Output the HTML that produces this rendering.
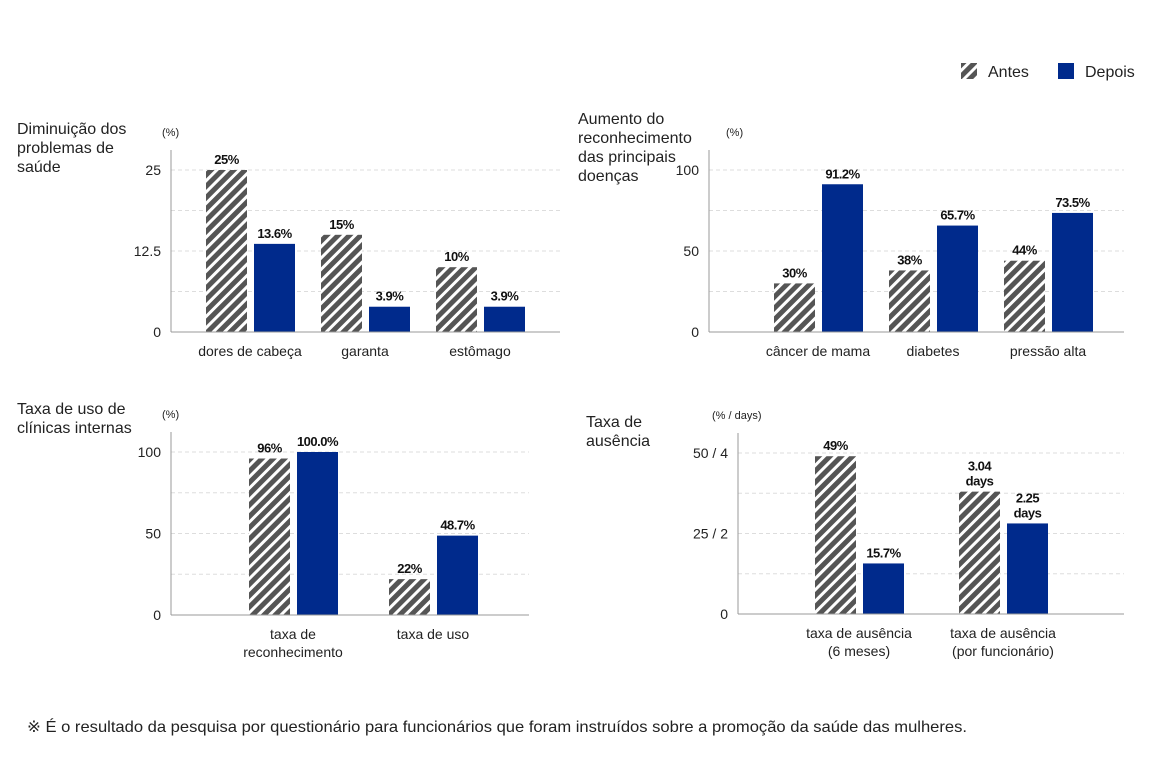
<!DOCTYPE html>
<html><head><meta charset="utf-8"><style>
html,body{margin:0;padding:0;background:#fff;}
svg{display:block;font-family:"Liberation Sans",sans-serif;}
</style></head><body>
<svg id="root" width="1156" height="768" viewBox="0 0 1156 768" xmlns="http://www.w3.org/2000/svg">
<defs>
<pattern id="hatch" patternUnits="userSpaceOnUse" width="8" height="8" patternTransform="rotate(45)">
<rect width="8" height="8" fill="#555"/>
<rect width="3" height="8" fill="#fff"/>
</pattern>
</defs>
<g>
<rect x="961" y="63" width="16" height="16" fill="url(#hatch)"/>
<text x="988" y="77" font-size="16" fill="#222">Antes</text>
<rect x="1058" y="63" width="16" height="16" fill="#002a8c"/>
<text x="1085" y="77" font-size="16" fill="#222">Depois</text>
</g>
<text x="27" y="732" font-size="16" fill="#222" textLength="940" lengthAdjust="spacingAndGlyphs">※ É o resultado da pesquisa por questionário para funcionários que foram instruídos sobre a promoção da saúde das mulheres.</text>
</svg>
<script>
// Chart 1
const c1Categories = ["dores de cabeça", "garanta", "estômago"];
const c1Antes = [25, 15, 10];
const c1Depois = [13.6, 3.9, 3.9];
const c1AntesLabels = ["25%", "15%", "10%"];
const c1DepoisLabels = ["13.6%", "3.9%", "3.9%"];
const c1Ticks = [0, 12.5, 25];
const c1TickLabels = ["0", "12.5", "25"];
// Chart 2
const c2Categories = ["câncer de mama", "diabetes", "pressão alta"];
const c2Antes = [30, 38, 44];
const c2Depois = [91.2, 65.7, 73.5];
const c2AntesLabels = ["30%", "38%", "44%"];
const c2DepoisLabels = ["91.2%", "65.7%", "73.5%"];
const c2Ticks = [0, 50, 100];
const c2TickLabels = ["0", "50", "100"];
// Chart 3
const c3Categories = [["taxa de", "reconhecimento"], ["taxa de uso"]];
const c3Antes = [96, 22];
const c3Depois = [100, 48.7];
const c3AntesLabels = [["96%"], ["22%"]];
const c3DepoisLabels = [["100.0%"], ["48.7%"]];
const c3Ticks = [0, 50, 100];
const c3TickLabels = ["0", "50", "100"];
// Chart 4 (scaled to % axis: 4 days = 50)
const c4Categories = [["taxa de ausência", "(6 meses)"], ["taxa de ausência", "(por funcionário)"]];
const c4Antes = [49, 3.04 * 12.5];
const c4Depois = [15.7, 2.25 * 12.5];
const c4AntesLabels = [["49%"], ["3.04", "days"]];
const c4DepoisLabels = [["15.7%"], ["2.25", "days"]];
const c4Ticks = [0, 25, 50];
const c4TickLabels = ["0", "25 / 2", "50 / 4"];

const NS = "http://www.w3.org/2000/svg";
const root = document.getElementById("root");
function mk(tag, attrs, parent) {
  const e = document.createElementNS(NS, tag);
  for (const k in attrs) e.setAttribute(k, attrs[k]);
  (parent || root).appendChild(e);
  return e;
}

function chart(cfg) {
  const g = mk("g", {});
  
  
  const y = v => cfg.base - (v / cfg.maxTick) * (cfg.base - cfg.topTick);
  // title
  const title = mk("text", {x: cfg.titleX, y: cfg.titleY, "font-size": 16, fill: "#222"}, g);
  
  
  cfg.title.forEach((ln, i) => { const t = mk("tspan", {x: cfg.titleX, dy: i ? 19 : 0}, title); t.textContent = ln; });
  // unit
  const u = mk("text", {x: cfg.unitX, y: cfg.topTick - 34, "font-size": 11, fill: "#222"}, g);
  u.textContent = cfg.unit;
  
  
  // gridlines
  const step = (cfg.base - cfg.topTick) / 4;
  for (let i = 1; i <= 4; i++) {
    const gl = mk("line", {x1: cfg.x0, x2: cfg.x1, y1: cfg.base - i * step, y2: cfg.base - i * step, stroke: "#ddd", "stroke-dasharray": "4 3"}, g);
    
    
  }
  // ticks
  cfg.ticks.forEach((tv, i) => {
    const t = mk("text", {x: cfg.x0 - 10, y: y(tv) + 5, "font-size": 14, fill: "#222", "text-anchor": "end"}, g);
    t.textContent = cfg.tickLabels[i];
    
    
  });
  // axes
  const ya = mk("line", {x1: cfg.x0, x2: cfg.x0, y1: cfg.topTick - 20, y2: cfg.base, stroke: "#999"}, g);
  
  
  // bars
  cfg.cats.forEach((c, i) => {
    const cx = cfg.c0 + i * cfg.gap;
    [[cfg.antes, cfg.antesL, "url(#hatch)", cx - 44, "bar-antes"], [cfg.depois, cfg.depoisL, "#002a8c", cx + 4, "bar-depois"]].forEach(([vals, labs, fill, bx, nm]) => {
      const v = vals[i];
      const r = mk("rect", {x: bx, y: y(v), width: 41, height: cfg.base - y(v), fill: fill}, g);
      
      
      const lab = [].concat(labs[i]);
      lab.forEach((ln, k) => {
        const t = mk("text", {x: bx + 20.5, y: y(v) - 6 - (lab.length - 1 - k) * 15, "font-size": 13, "font-weight": "bold", fill: "#111", "text-anchor": "middle", "letter-spacing": "-0.5"}, g);
        t.textContent = ln;
        
        
      });
    });
    [].concat(c).forEach((ln, k) => {
      const t = mk("text", {x: cx, y: cfg.base + 24 + k * 18, "font-size": 14, fill: "#222", "text-anchor": "middle"}, g);
      t.textContent = ln;
      
      
    });
  });
  const xa = mk("line", {x1: cfg.x0, x2: cfg.x1, y1: cfg.base, y2: cfg.base, stroke: "#999"}, g);
  
  
}

chart({name: "chart-health-problems", title: ["Diminuição dos", "problemas de", "saúde"], titleX: 17, titleY: 134, unit: "(%)", unitX: 162,
  x0: 171, x1: 560, base: 332, topTick: 170, maxTick: 25, ticks: c1Ticks, tickLabels: c1TickLabels,
  cats: c1Categories, antes: c1Antes, depois: c1Depois, antesL: c1AntesLabels, depoisL: c1DepoisLabels, c0: 250, gap: 115});
chart({name: "chart-disease-awareness", title: ["Aumento do", "reconhecimento", "das principais", "doenças"], titleX: 578, titleY: 124, unit: "(%)", unitX: 726,
  x0: 709, x1: 1124, base: 332, topTick: 170, maxTick: 100, ticks: c2Ticks, tickLabels: c2TickLabels,
  cats: c2Categories, antes: c2Antes, depois: c2Depois, antesL: c2AntesLabels, depoisL: c2DepoisLabels, c0: 818, gap: 115});
chart({name: "chart-clinic-usage", title: ["Taxa de uso de", "clínicas internas"], titleX: 17, titleY: 414, unit: "(%)", unitX: 162,
  x0: 171, x1: 529, base: 615, topTick: 452, maxTick: 100, ticks: c3Ticks, tickLabels: c3TickLabels,
  cats: c3Categories, antes: c3Antes, depois: c3Depois, antesL: c3AntesLabels, depoisL: c3DepoisLabels, c0: 293, gap: 140});
chart({name: "chart-absence", title: ["Taxa de", "ausência"], titleX: 586, titleY: 427, unit: "(% / days)", unitX: 712,
  x0: 738, x1: 1124, base: 614, topTick: 453, maxTick: 50, ticks: c4Ticks, tickLabels: c4TickLabels,
  cats: c4Categories, antes: c4Antes, depois: c4Depois, antesL: c4AntesLabels, depoisL: c4DepoisLabels, c0: 859, gap: 144});
</script>
</body></html>
